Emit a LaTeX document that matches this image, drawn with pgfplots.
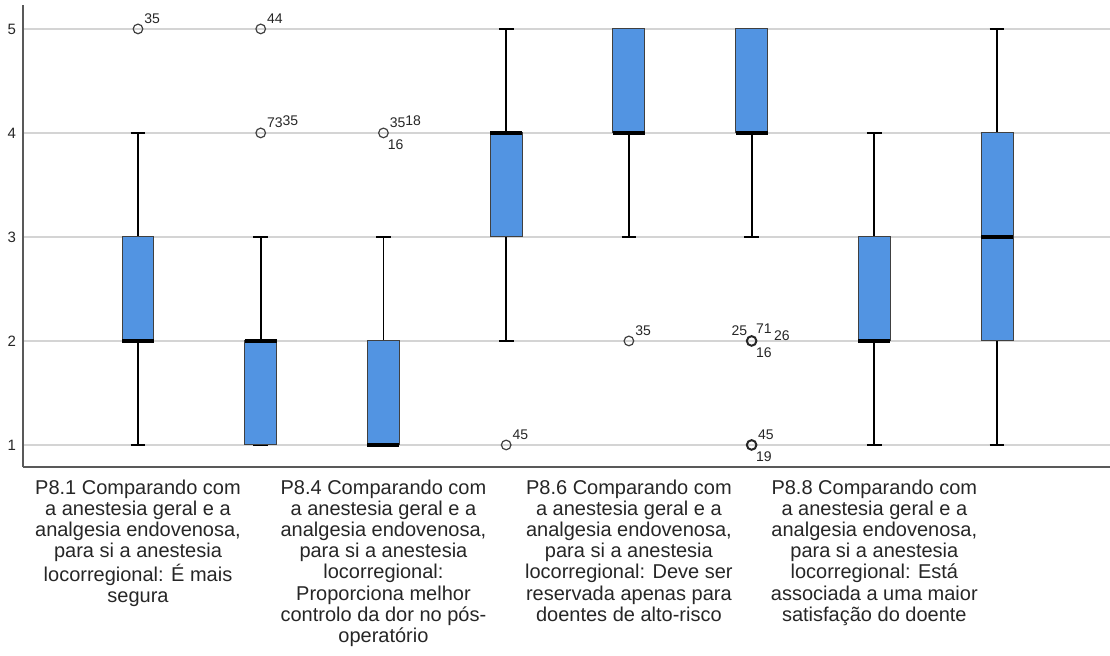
\documentclass[border=0pt]{standalone}
\usepackage{pgfplots}
\pgfplotsset{compat=1.18}
\usepgfplotslibrary{statistics}
\usepackage{fontspec}
\setmainfont{Liberation Sans}
\definecolor{boxblue}{HTML}{5294E2}
\definecolor{gridgray}{HTML}{D4D4D4}
\begin{document}
\begin{tikzpicture}
\begin{axis}[
  name=ax,
  scale only axis,
  width=543.5pt, height=231pt,
  at={(11.5pt,94pt)}, anchor=south west,
  xmin=-0.937, xmax=7.92,
  ymin=0.788, ymax=5.23,
  axis x line*=bottom, axis y line*=left,
  axis line style={draw=black!65, line width=0.6pt, -},
  ytick={1,2,3,4,5},
  ymajorgrids, grid style={gridgray, line width=0.8pt},
  major tick length=0pt,
  xtick={0,2,4,6},
  xticklabels={
    {P8.1 Comparando com\\a anestesia geral e a\\analgesia endovenosa,\\para si a anestesia\\locorregional: É mais\\segura},
    {P8.4 Comparando com\\a anestesia geral e a\\analgesia endovenosa,\\para si a anestesia\\locorregional:\\Proporciona melhor\\controlo da dor no pós-\\operatório},
    {P8.6 Comparando com\\a anestesia geral e a\\analgesia endovenosa,\\para si a anestesia\\locorregional: Deve ser\\reservada apenas para\\doentes de alto-risco},
    {P8.8 Comparando com\\a anestesia geral e a\\analgesia endovenosa,\\para si a anestesia\\locorregional: Está\\associada a uma maior\\satisfação do doente}
  },
  xticklabel style={align=center, font=\fontsize{10}{10.55}\selectfont, text=black!85, yshift=-3pt},
  yticklabel style={font=\fontsize{7.5}{9}\selectfont, text=black!85},
  /pgf/number format/assume math mode=true,
  boxplot/draw direction=y,
  boxplot/box extend=0.26,
  boxplot/whisker extend=0.12,
  boxplot/every box/.style={draw=black!75, line width=0.5pt, fill=boxblue},
  boxplot/every whisker/.style={draw=black, line width=0.9pt},
  boxplot/every median/.style={draw=black, line width=1.6pt},
  clip=false,
]
\addplot[boxplot prepared={draw position=0, lower whisker=1, lower quartile=2, median=2, upper quartile=3, upper whisker=4}] coordinates {};
\addplot[boxplot prepared={draw position=1, lower whisker=1, lower quartile=1, median=2, upper quartile=2, upper whisker=3}] coordinates {};
\addplot[boxplot prepared={draw position=2, lower whisker=1, lower quartile=1, median=1, upper quartile=2, upper whisker=3}] coordinates {};
\addplot[boxplot prepared={draw position=3, lower whisker=2, lower quartile=3, median=4, upper quartile=4, upper whisker=5}] coordinates {};
\addplot[boxplot prepared={draw position=4, lower whisker=3, lower quartile=4, median=4, upper quartile=5, upper whisker=5}] coordinates {};
\addplot[boxplot prepared={draw position=5, lower whisker=3, lower quartile=4, median=4, upper quartile=5, upper whisker=5}] coordinates {};
\addplot[boxplot prepared={draw position=6, lower whisker=1, lower quartile=2, median=2, upper quartile=3, upper whisker=4}] coordinates {};
\addplot[boxplot prepared={draw position=7, lower whisker=1, lower quartile=2, median=3, upper quartile=4, upper whisker=5}] coordinates {};
% outliers
\addplot[only marks, mark=o, mark size=2.4pt, mark options={draw=black!75, line width=0.6pt}] coordinates {
 (0,5) (1,5) (1,4) (2,4) (3,1) (4,2)};
\addplot[only marks, mark=o, mark size=2.4pt, mark options={draw=black!85, line width=1pt}] coordinates {
 (5,2) (5,1)};
% outlier case labels
\begin{scope}[every node/.style={font=\fontsize{7}{8}\selectfont, text=black!85, inner sep=0pt}]
\node[anchor=south west] at ([xshift=3pt,yshift=2.5pt]axis cs:0,5) {35};
\node[anchor=south west] at ([xshift=3pt,yshift=2.5pt]axis cs:1,5) {44};
\node[anchor=south west] at ([xshift=3pt,yshift=2.5pt]axis cs:1,4) {73\raisebox{1pt}{35}};
\node[anchor=south west] at ([xshift=3pt,yshift=2.5pt]axis cs:2,4) {35\raisebox{1pt}{18}};
\node[anchor=north west] at ([xshift=2pt,yshift=-3pt]axis cs:2,4) {16};
\node[anchor=south west] at ([xshift=3pt,yshift=2.5pt]axis cs:3,1) {45};
\node[anchor=south west] at ([xshift=3pt,yshift=2.5pt]axis cs:4,2) {35};
\node[anchor=south east] at ([xshift=-2pt,yshift=2.5pt]axis cs:5,2) {25};
\node[anchor=south west] at ([xshift=2pt,yshift=3.5pt]axis cs:5,2) {71};
\node[anchor=south west] at ([xshift=11pt,yshift=0pt]axis cs:5,2) {26};
\node[anchor=north west] at ([xshift=2pt,yshift=-3pt]axis cs:5,2) {16};
\node[anchor=south west] at ([xshift=3pt,yshift=2.5pt]axis cs:5,1) {45};
\node[anchor=north west] at ([xshift=2pt,yshift=-3pt]axis cs:5,1) {19};
\end{scope}
\end{axis}
\pgfresetboundingbox
\path[use as bounding box] (0,0) rectangle (555pt,327.5pt);
\end{tikzpicture}
\end{document}
